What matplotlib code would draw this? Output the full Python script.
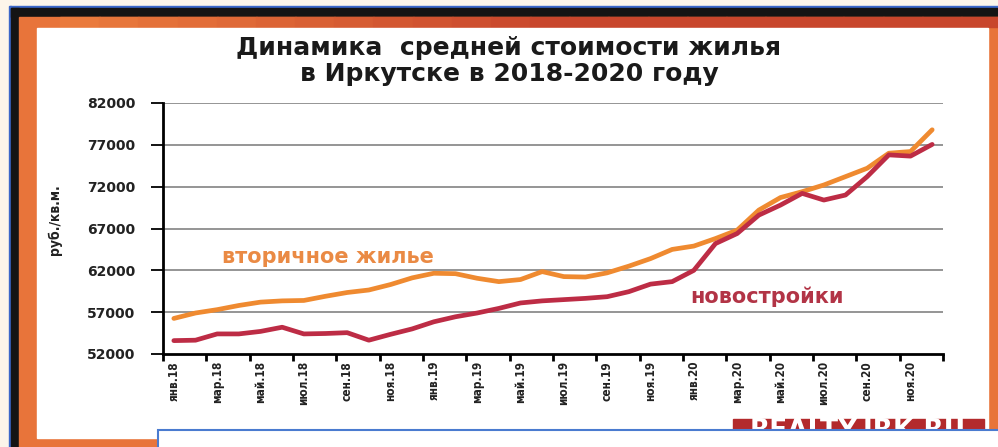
"""Average housing price in Irkutsk, 2018-2020 (secondary vs new builds)."""

import matplotlib

matplotlib.use("Agg")
import matplotlib.pyplot as plt  # noqa: E402
import numpy as np  # noqa: E402
from matplotlib.colors import to_rgb  # noqa: E402
from matplotlib.patches import Rectangle  # noqa: E402

W, H = 998, 447

MONTH_LABELS = [
    "янв.18", "мар.18", "май.18", "июл.18", "сен.18", "ноя.18",
    "янв.19", "мар.19", "май.19", "июл.19", "сен.19", "ноя.19",
    "янв.20", "мар.20", "май.20", "июл.20", "сен.20", "ноя.20",
]

# monthly averages, rub per sq. m, Jan 2018 .. Dec 2020
secondary = [
    56250, 56900, 57300, 57800, 58200, 58350, 58400, 58900, 59350, 59650,
    60300, 61100, 61650, 61600, 61050, 60650, 60900, 61850, 61250, 61200,
    61700, 62500, 63400, 64500, 64900, 65800, 66800, 69200, 70700, 71400,
    72200, 73200, 74200, 76000, 76200, 78800,
]
new_builds = [
    53600, 53650, 54400, 54400, 54700, 55200, 54400, 54450, 54550, 53650,
    54350, 55000, 55850, 56450, 56900, 57450, 58100, 58350, 58500, 58650,
    58850, 59450, 60350, 60650, 62000, 65200, 66400, 68600, 69800, 71200,
    70400, 71000, 73200, 75800, 75650, 77050,
]

Y_MIN, Y_MAX, Y_STEP = 52000, 82000, 5000

ORANGE = "#ef8a30"
RED = "#bd2c45"


def px_rect(fig, x0, y0, x1, y1, **kw):
    """Rectangle given in pixel coords measured from the top-left corner."""
    r = Rectangle((x0 / W, 1 - y1 / H), (x1 - x0) / W, (y1 - y0) / H,
                  transform=fig.transFigure, **kw)
    fig.add_artist(r)
    return r


fig = plt.figure(figsize=(W / 100, H / 100), dpi=100, facecolor="#fcf5ea")

# ---- frame around the chart ----
px_rect(fig, 10, 6, 1000, 8, color="#3b67c9", zorder=-6)
px_rect(fig, 9, 6, 11, 450, color="#3b67c9", zorder=-6)
px_rect(fig, 11, 8, 1000, 17, color="#141414", zorder=-5)
px_rect(fig, 11, 8, 19, 450, color="#141414", zorder=-5)
px_rect(fig, 19, 17, 1000, 450, color="#e8743a", zorder=-4)

# top edge of the frame darkens towards the right
c0, c1 = np.array(to_rgb("#ea7a3c")), np.array(to_rgb("#c8462c"))
edges = np.linspace(60, 1000, 25)
for k, (a, b) in enumerate(zip(edges[:-1], edges[1:])):
    t = min(1.0, k / 12)
    px_rect(fig, a, 17, b + 1, 27, color=c0 + (c1 - c0) * t, zorder=-4)

px_rect(fig, 37, 28, 988, 438, color="white", zorder=-3)

# ---- plot ----
ax = fig.add_axes([163 / W, 1 - 354 / H, (943 - 163) / W, (354 - 103) / H])
ax.set_facecolor("none")

x = np.arange(len(secondary))
ax.plot(x, secondary, color=ORANGE, lw=3.4, solid_capstyle="round",
        solid_joinstyle="round", zorder=3)
ax.plot(x, new_builds, color=RED, lw=3.4, solid_capstyle="round",
        solid_joinstyle="round", zorder=4)

ax.set_xlim(-0.5, len(secondary) - 0.5)
ax.set_ylim(Y_MIN, Y_MAX)

yticks = np.arange(Y_MIN, Y_MAX + 1, Y_STEP)
ax.set_yticks(yticks)
ax.set_yticklabels([str(v) for v in yticks], fontsize=10, fontweight="bold",
                   color="#222222")
for v in yticks[1:]:
    ax.axhline(v, color="#8c8c8c", lw=1.3, zorder=1)

# ticks sit on the boundaries every two months, labels at the month centres
ax.set_xticks(np.arange(-0.5, len(secondary), 2))
ax.set_xticklabels([])
ax.set_xticks(np.arange(0, len(secondary), 2), minor=True)
ax.set_xticklabels(MONTH_LABELS, minor=True, rotation=90,
                   fontsize=8.5, fontweight="bold", fontstretch="condensed",
                   color="#222222")
ax.tick_params(axis="x", which="minor", length=0, pad=5)
ax.tick_params(axis="x", which="major", length=5, width=2, direction="out")
ax.tick_params(axis="y", length=9, width=1.3, direction="out", pad=11)

for side in ("top", "right"):
    ax.spines[side].set_visible(False)
ax.spines["left"].set_linewidth(2)
ax.spines["bottom"].set_linewidth(2)

ax.text(7.1, 63600, "вторичное жилье", color="#ea8a44", fontsize=15,
        fontweight="bold", ha="center", va="center")
ax.text(27.4, 58800, "новостройки", color="#b23446", fontsize=15,
        fontweight="bold", ha="center", va="center")

# ---- titles ----
fig.text(509 / W, 1 - 55 / H, "Динамика  средней стоимости жилья",
         fontsize=18, fontweight="bold", ha="center", va="baseline",
         color="#1a1a1a")
fig.text(509 / W, 1 - 81 / H, "в Иркутске в 2018-2020 году",
         fontsize=18, fontweight="bold", ha="center", va="baseline",
         color="#1a1a1a")
fig.text(55 / W, 1 - 220 / H, "руб./кв.м.", rotation=90,
         fontsize=10, fontweight="bold", fontstretch="condensed",
         ha="center", va="center", color="#222222")

# ---- site banner, partly hidden by the caption box ----
px_rect(fig, 733, 419, 984, 436, color="#b32a2c", zorder=5)
fig.text(858 / W, 1 - 418 / H, "REALTY.IRK.RU", fontsize=19,
         fontweight="bold", color="white", ha="center", va="top", zorder=6)
px_rect(fig, 158, 430, 1010, 460, facecolor="white", edgecolor="#4a7bd0",
        lw=1.5, zorder=10)

fig.savefig("out.png", dpi=100, facecolor=fig.get_facecolor())
